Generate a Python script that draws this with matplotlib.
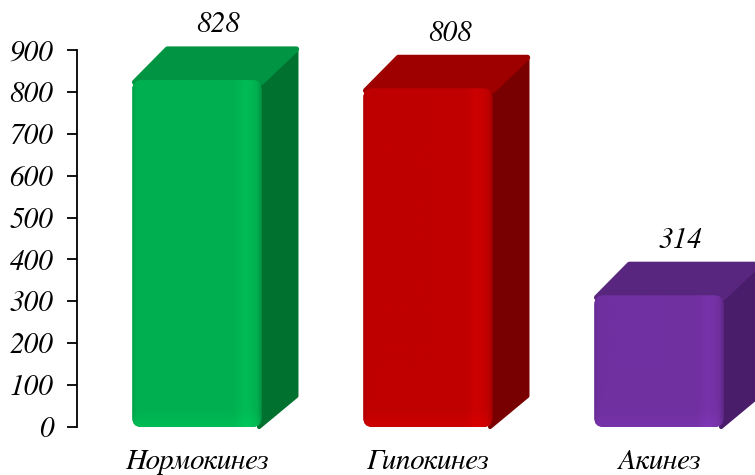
import numpy as np
import matplotlib
matplotlib.use('Agg')
import matplotlib.pyplot as plt
from matplotlib.patches import FancyBboxPatch, Polygon
from matplotlib.colors import to_rgb

categories = ['Нормокинез', 'Гипокинез', 'Акинез']
values = [828, 808, 314]
front_colors = ['#00B050', '#C00000', '#7030A0']
top_colors = ['#019442', '#9E0000', '#58267F']
side_colors = ['#00712F', '#790000', '#4A1D6B']
yticks = [0, 100, 200, 300, 400, 500, 600, 700, 800, 900]

plt.rcParams['font.family'] = ['FreeSerif', 'Liberation Serif', 'DejaVu Serif']
plt.rcParams['font.style'] = 'italic'
FS = 21

W, H = 755, 475
fig = plt.figure(figsize=(W / 100, H / 100), dpi=100)
ax = fig.add_axes([77 / W, 48 / H, 678 / W, 377 / H])
XL = (-0.519, 2.416)
YL = (0, 900)
ax.set_xlim(*XL)
ax.set_ylim(*YL)
px_x = 678 / (XL[1] - XL[0])
px_y = 377 / (YL[1] - YL[0])
width = 129 / px_x
dx = 35 / px_x
dy = 31 / px_y

x = np.arange(len(categories))
bars = ax.bar(x, values, width=width, color=front_colors, zorder=3)

for bar, fc, tc, sc, v in zip(bars, front_colors, top_colors, side_colors, values):
    x0 = bar.get_x()
    w = bar.get_width()
    h = bar.get_height()
    x1 = x0 + w
    bar.set_visible(False)
    side = Polygon([(x1 - 0.01, 0), (x1 + dx, dy), (x1 + dx, h + dy), (x1 - 0.01, h)],
                   closed=True, fc=sc, ec=sc, lw=3, joinstyle='round',
                   clip_on=False, zorder=2)
    top = Polygon([(x0 + 0.01, h - 5), (x0 + dx, h + dy), (x1 + dx, h + dy), (x1, h - 5)],
                  closed=True, fc=tc, ec=tc, lw=4, joinstyle='round',
                  clip_on=False, zorder=2)
    ax.add_patch(side)
    ax.add_patch(top)
    r = 9 / px_x
    front = FancyBboxPatch((x0, 0), w, h,
                           boxstyle=f'round,pad=0,rounding_size={r}',
                           mutation_aspect=(9 / px_y) / r,
                           fc=fc, ec='none', clip_on=False, zorder=3)
    ax.add_patch(front)
    # subtle shading on the front face
    base = np.array(to_rgb(fc))
    nx, ny = 200, 100
    t = np.linspace(0, 1, nx)
    shade = np.ones(nx)
    shade += 0.06 * np.exp(-((t - 0.88) / 0.06) ** 2)
    shade -= 0.08 * np.exp(-(t / 0.02) ** 2)
    shade -= 0.15 * np.exp(-((1 - t) / 0.025) ** 2)
    s = np.linspace(0, 1, ny)
    vshade = 1 + 0.06 * np.exp(-(s / (10 / (h * px_y))) ** 2)
    img = base[None, None, :] * shade[None, :, None] * vshade[:, None, None]
    img = np.clip(img, 0, 1)
    im = ax.imshow(img, extent=(x0, x1, h, 0), aspect='auto', zorder=4,
                   interpolation='bilinear', origin='upper')
    im.set_clip_path(front)
    ax.annotate(str(v), (x0 + w / 2 + dx / 2, h + dy), xytext=(3, 12),
                textcoords='offset points', ha='center', va='baseline',
                fontsize=FS, fontstyle='italic', color='black',
                annotation_clip=False)

ax.set_xlim(*XL)
ax.set_ylim(*YL)
ax.set_xticks(x)
ax.set_xticklabels(categories, fontsize=FS, fontstyle='italic')
ax.set_yticks(yticks)
ax.set_yticklabels([str(t) for t in yticks], fontsize=FS, fontstyle='italic')
ax.tick_params(axis='x', length=0, pad=16)
ax.tick_params(axis='y', direction='out', length=7, width=1.3, pad=10, color='black')
for sp in ['top', 'right', 'bottom']:
    ax.spines[sp].set_visible(False)
ax.spines['left'].set_linewidth(1.3)
ax.spines['left'].set_color('black')
ax.set_facecolor('none')

fig.savefig('out.png', dpi=100)
